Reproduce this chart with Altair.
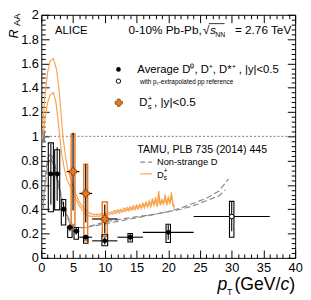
import altair as alt
import pandas as pd

FONT = "Liberation Sans"
W, H = 259, 248
ORANGE = "#ec7a22"
ORANGE_LINE = "#f8a54f"
GREY = "#8a8a8a"

# ---------------- data ----------------
# Average D0, D+, D*+ (ALICE, 0-10% Pb-Pb)
d_pt = [1.5, 2.5, 3.5, 4.5, 5.5, 7, 10, 14, 20, 30]
d_raa = [0.69, 0.69, 0.40, 0.25, 0.22, 0.17, 0.14, 0.17, 0.21, 0.34]
d_xlo = [1, 2, 3, 4, 5, 6, 8, 12, 16, 24]
d_xhi = [2, 3, 4, 5, 6, 8, 12, 16, 24, 36]
d_stat = [0.25, 0.22, 0.06, 0.03, 0.03, 0.02, 0.03, 0.03, 0.06, 0.12]
d_sys_lo = [0.38, 0.395, 0.27, 0.167, 0.153, 0.12, 0.10, 0.13, 0.127, 0.17]
d_sys_hi = [0.946, 0.89, 0.48, 0.26, 0.25, 0.175, 0.19, 0.20, 0.277, 0.465]
d_box_hw = [0.4, 0.4, 0.35, 0.35, 0.35, 0.35, 0.45, 0.35, 0.35, 0.35]
d_extrap = [0, 0, 0, 0, 0, 0, 0, 0, 0, 1]

# Ds+
ds_pt = [5, 7, 10]
ds_raa = [0.71, 0.53, 0.32]
ds_xlo = [4, 6, 8]
ds_xhi = [6, 8, 12]
ds_stat = [0.32, 0.24, 0.12]
ds_sys_lo = [0.27, 0.14, 0.175]
ds_sys_hi = [1.02, 0.77, 0.46]
ds_box_hw = [0.3, 0.3, 0.4]

# normalisation uncertainty box
norm_x = [0.0, 0.6]
norm_y = [0.95, 1.05]
ref_line = [1.0]

# TAMU Ds band (two edges)
tamu_ds_hi_x = [0.2, 0.6, 1.0, 1.4, 1.9, 2.4, 2.8, 3.1, 3.4, 3.8, 4.2, 4.8, 5.4, 6.0, 6.5, 7.0, 7.5, 8.0,
                8.25, 8.5, 8.75, 9.0, 9.25, 9.5, 9.75, 10.0, 10.25, 10.5, 10.75, 11.0, 11.25, 11.5, 11.75,
                12.0, 12.25, 12.5, 12.75, 13.0, 13.25, 13.5, 13.75, 14.0, 14.25, 14.5, 14.75, 15.0, 15.25,
                15.5, 15.75, 16.0, 16.25, 16.5, 16.75, 17.0, 17.25, 17.5, 17.75, 18.0, 18.25, 18.5, 18.75,
                19.0, 19.25, 19.5, 19.75, 20.0, 20.25, 20.5, 20.75, 21.0]
tamu_ds_hi_y = [1.08, 1.35, 1.53, 1.62, 1.64, 1.55, 1.38, 1.2, 1.0, 0.84, 0.72, 0.62, 0.53, 0.46, 0.42, 0.39, 0.37, 0.36,
                0.36, 0.355, 0.36, 0.355, 0.36, 0.365, 0.36, 0.37, 0.365, 0.375, 0.37, 0.38, 0.375, 0.39, 0.38,
                0.395, 0.385, 0.40, 0.39, 0.41, 0.395, 0.415, 0.40, 0.42, 0.405, 0.43, 0.41, 0.435, 0.415,
                0.44, 0.42, 0.45, 0.425, 0.46, 0.43, 0.47, 0.43, 0.49, 0.44, 0.50, 0.43, 0.55, 0.44,
                0.48, 0.45, 0.52, 0.44, 0.50, 0.46, 0.54, 0.45, 0.42]
tamu_ds_lo_x = [0.2, 0.6, 1.0, 1.4, 1.9, 2.3, 2.6, 2.9, 3.2, 3.6, 4.0, 4.8, 5.4, 6.0, 6.5, 7.0, 7.5, 8.0,
                8.25, 8.5, 8.75, 9.0, 9.25, 9.5, 9.75, 10.0, 10.25, 10.5, 10.75, 11.0, 11.25, 11.5, 11.75,
                12.0, 12.25, 12.5, 12.75, 13.0, 13.25, 13.5, 13.75, 14.0, 14.25, 14.5, 14.75, 15.0, 15.25,
                15.5, 15.75, 16.0, 16.25, 16.5, 16.75, 17.0, 17.25, 17.5, 17.75, 18.0, 18.25, 18.5, 18.75,
                19.0, 19.25, 19.5, 19.75, 20.0, 20.25, 20.5, 20.75, 21.0]
tamu_ds_lo_y = [0.98, 1.15, 1.28, 1.34, 1.36, 1.28, 1.15, 1.0, 0.86, 0.74, 0.65, 0.56, 0.49, 0.43, 0.39, 0.36, 0.345, 0.34,
                0.345, 0.34, 0.345, 0.34, 0.345, 0.35, 0.345, 0.355, 0.35, 0.36, 0.355, 0.365, 0.36, 0.37, 0.365,
                0.38, 0.37, 0.385, 0.375, 0.39, 0.38, 0.40, 0.385, 0.405, 0.39, 0.41, 0.395, 0.42, 0.40,
                0.43, 0.405, 0.44, 0.41, 0.45, 0.415, 0.46, 0.42, 0.47, 0.43, 0.48, 0.42, 0.50, 0.43,
                0.47, 0.44, 0.50, 0.43, 0.49, 0.44, 0.51, 0.43, 0.40]

# TAMU non-strange D band (two edges)
tamu_d_hi_x = [0.3, 0.7, 1.0, 1.5, 2.0, 2.5, 3.0, 3.5, 4.0, 4.5, 5.0, 5.5, 6, 7, 8, 9, 10, 12, 14, 16, 18, 20, 22, 24, 26, 28, 29.5]
tamu_d_hi_y = [0.45, 0.7, 0.82, 0.86, 0.8, 0.68, 0.55, 0.44, 0.36, 0.3, 0.27, 0.255, 0.25, 0.25, 0.26, 0.27, 0.28, 0.3, 0.32, 0.34, 0.36, 0.38, 0.41, 0.45, 0.49, 0.55, 0.65]
tamu_d_lo_x = [0.3, 0.7, 1.0, 1.5, 2.0, 2.5, 3.0, 3.5, 4.0, 4.5, 5.0, 5.5, 6, 7, 8, 9, 10, 12, 14, 16, 18, 20, 22, 24, 26, 28, 29]
tamu_d_lo_y = [0.40, 0.64, 0.77, 0.82, 0.76, 0.64, 0.52, 0.42, 0.34, 0.29, 0.26, 0.25, 0.245, 0.25, 0.265, 0.28, 0.295, 0.315, 0.33, 0.345, 0.36, 0.38, 0.40, 0.43, 0.47, 0.51, 0.56]

# axis ticks
x_major = [0, 5, 10, 15, 20, 25, 30, 35, 40]
x_minor = [i for i in range(41) if i % 5]
y_major = [0, 0.2, 0.4, 0.6, 0.8, 1.0, 1.2, 1.4, 1.6, 1.8, 2.0]
y_minor = [round(i * 0.04, 2) for i in range(51) if i % 5]

# ---------------- frames ----------------
d_df = pd.DataFrame({
    "pt": d_pt, "raa": d_raa, "xlo": d_xlo, "xhi": d_xhi,
    "slo": [r - s for r, s in zip(d_raa, d_stat)],
    "shi": [r + s for r, s in zip(d_raa, d_stat)],
    "blo": d_sys_lo, "bhi": d_sys_hi,
    "bx1": [p - w for p, w in zip(d_pt, d_box_hw)],
    "bx2": [p + w for p, w in zip(d_pt, d_box_hw)],
    "extrap": d_extrap,
})
ds_df = pd.DataFrame({
    "pt": ds_pt, "raa": ds_raa, "xlo": ds_xlo, "xhi": ds_xhi,
    "slo": [r - s for r, s in zip(ds_raa, ds_stat)],
    "shi": [r + s for r, s in zip(ds_raa, ds_stat)],
    "blo": ds_sys_lo, "bhi": ds_sys_hi,
    "bx1": [p - w for p, w in zip(ds_pt, ds_box_hw)],
    "bx2": [p + w for p, w in zip(ds_pt, ds_box_hw)],
})
ds_curves = pd.DataFrame({
    "pt": tamu_ds_hi_x + tamu_ds_lo_x,
    "raa": tamu_ds_hi_y + tamu_ds_lo_y,
    "edge": ["hi"] * len(tamu_ds_hi_x) + ["lo"] * len(tamu_ds_lo_x),
})
d_curves = pd.DataFrame({
    "pt": tamu_d_hi_x + tamu_d_lo_x,
    "raa": tamu_d_hi_y + tamu_d_lo_y,
    "edge": ["hi"] * len(tamu_d_hi_x) + ["lo"] * len(tamu_d_lo_x),
})
norm_df = pd.DataFrame({"x1": [norm_x[0]], "x2": [norm_x[1]], "y1": [norm_y[0]], "y2": [norm_y[1]]})
ref_df = pd.DataFrame({"ref": ref_line})
one = pd.DataFrame({"v": [0.0]})

xs = alt.Scale(domain=[0, 40], nice=False, zero=False)
ys = alt.Scale(domain=[0, 2], nice=False, zero=False)

def X(f):
    return alt.X(f, type="quantitative", scale=xs, axis=None)

def Y(f):
    return alt.Y(f, type="quantitative", scale=ys, axis=None)

layers = []

# reference line at 1
layers.append(alt.Chart(ref_df).mark_rule(color="#555555", strokeWidth=0.8, strokeDash=[2, 2]).encode(y=Y("ref")))
# normalisation box
layers.append(alt.Chart(norm_df).mark_rect(color="#7a7a7a").encode(
    x=X("x1"), x2="x2", y=Y("y1"), y2="y2"))
# TAMU curves
layers.append(alt.Chart(d_curves).mark_line(color=GREY, strokeWidth=1.2, strokeDash=[6, 3]).encode(
    x=X("pt"), y=Y("raa"), detail="edge:N"))
layers.append(alt.Chart(ds_curves).mark_line(color=ORANGE_LINE, strokeWidth=1.2).encode(
    x=X("pt"), y=Y("raa"), detail="edge:N"))

# Ds syst boxes and bars
layers.append(alt.Chart(ds_df).mark_rect(fill=None, stroke=ORANGE, strokeWidth=1.5).encode(
    x=X("bx1"), x2="bx2", y=Y("blo"), y2="bhi"))
layers.append(alt.Chart(ds_df).mark_rule(color="black", strokeWidth=1.2).encode(
    x=X("pt"), y=Y("slo"), y2="shi"))
layers.append(alt.Chart(ds_df).mark_rule(color="black", strokeWidth=1.2).encode(
    x=X("xlo"), x2="xhi", y=Y("raa")))

# average D syst boxes and bars
layers.append(alt.Chart(d_df).mark_rect(fill=None, stroke="black", strokeWidth=1.1).encode(
    x=X("bx1"), x2="bx2", y=Y("blo"), y2="bhi"))
layers.append(alt.Chart(d_df).mark_rule(color="black", strokeWidth=1.1).encode(
    x=X("pt"), y=Y("slo"), y2="shi"))
layers.append(alt.Chart(d_df).mark_rule(color="black", strokeWidth=1.1).encode(
    x=X("xlo"), x2="xhi", y=Y("raa")))
layers.append(alt.Chart(d_df).transform_filter("datum.extrap == 0").mark_point(
    shape="circle", filled=True, size=24, color="black", opacity=1).encode(x=X("pt"), y=Y("raa")))
layers.append(alt.Chart(d_df).transform_filter("datum.extrap == 1").mark_point(
    shape="circle", filled=True, size=22, fill="white", stroke="black", strokeWidth=1, opacity=1).encode(
    x=X("pt"), y=Y("raa")))
layers.append(alt.Chart(ds_df).mark_point(
    shape="cross", filled=True, size=55, fill=ORANGE, stroke="#7a3a05", strokeWidth=0.7, opacity=1).encode(
    x=X("pt"), y=Y("raa")))

# ---------------- axes (inward ticks on all four sides) ----------------
def ax(**kw):
    base = dict(grid=False, title=None, domain=False)
    base.update(kw)
    return alt.Axis(**base)

def x_axis_layer(axis):
    return alt.Chart(one).mark_point(opacity=0).encode(
        x=alt.X("v", type="quantitative", scale=xs, axis=axis))

def y_axis_layer(axis):
    return alt.Chart(one).mark_point(opacity=0).encode(
        y=alt.Y("v", type="quantitative", scale=ys, axis=axis))

tick_kw = dict(labels=False, tickColor="black", tickWidth=1)
layers += [
    x_axis_layer(ax(orient="bottom", values=x_major, ticks=False, labelFontSize=13, labelFont=FONT,
                    labelColor="black", labelPadding=4, labelFlush=False, labelOverlap=False, labelBound=False)),
    x_axis_layer(ax(orient="top", offset=-H, values=x_major, tickSize=8, **tick_kw)),
    x_axis_layer(ax(orient="top", offset=-H, values=x_minor, tickSize=4, **tick_kw)),
    x_axis_layer(ax(orient="bottom", offset=-H, values=x_major, tickSize=8, **tick_kw)),
    x_axis_layer(ax(orient="bottom", offset=-H, values=x_minor, tickSize=4, **tick_kw)),
    y_axis_layer(ax(orient="left", values=y_major, format="~g", ticks=False, labelFontSize=13, labelFont=FONT,
                    labelColor="black", labelPadding=3, labelFlush=False, labelOverlap=False, labelBound=False)),
    y_axis_layer(ax(orient="right", offset=-W, values=y_major, tickSize=8, **tick_kw)),
    y_axis_layer(ax(orient="right", offset=-W, values=y_minor, tickSize=4, **tick_kw)),
    y_axis_layer(ax(orient="left", offset=-W, values=y_major, tickSize=8, **tick_kw)),
    y_axis_layer(ax(orient="left", offset=-W, values=y_minor, tickSize=4, **tick_kw)),
]

# ---------------- texts ----------------
def txt(s, x, y, size, style="normal", align="left", angle=0, color="black"):
    return alt.Chart(one).mark_text(text=s, font=FONT, fontSize=size, fontStyle=style, align=align,
                                    baseline="alphabetic", angle=angle, color=color).encode(
        x=alt.value(x), y=alt.value(y))

def hline(x1, x2, y, color, width=1.2, dash=None):
    kw = dict(color=color, strokeWidth=width)
    if dash:
        kw["strokeDash"] = dash
    return alt.Chart(one).mark_rule(**kw).encode(x=alt.value(x1), x2=alt.value(x2), y=alt.value(y))

layers += [
    txt("ALICE", 14, 20, 11.5),
    txt("0-10% Pb-Pb,", 89, 20, 12),
    txt("\u221a", 165, 20, 12),
    hline(171, 187, 9, "black", 0.8),
    txt("s", 172, 20, 12, style="italic"),
    txt("NN", 177.5, 22.5, 7),
    txt("= 2.76 TeV", 255, 20, 12, align="right"),
    # legend
    txt("Average D\u2070, D\u207a, D*\u207a , |y|<0.5", 98, 59.5, 11.5),
    txt("with p\u209c-extrapolated pp reference", 100.7, 71, 6.5),
    txt("D", 100, 93, 11.5),
    txt("+", 108.5, 87.5, 8),
    txt("s", 108.5, 96, 8),
    txt(" , |y|<0.5", 115, 93, 12),
    txt("TAMU, PLB 735 (2014) 445", 98, 141, 10.8),
    hline(101, 113, 150.3, GREY, 1.2, [5, 3]),
    txt("Non-strange D", 118, 153.5, 9.5),
    hline(101, 113, 162.3, ORANGE_LINE, 1.2),
    txt("D", 118, 166, 9.5),
    txt("+", 125, 161.5, 6.5),
    txt("s", 125, 168.5, 6.5),
    # axis titles
    txt("R", -24, 24, 12.5, style="italic", angle=270),
    txt("AA", -22, 11.3, 9.5, angle=270),
    txt("p", 179.7, 280.6, 18, style="italic"),
    txt("T", 189.5, 286.3, 9),
    txt("(GeV/", 197, 280.6, 18),
    txt("c", 244, 280.6, 18, style="italic"),
    txt(")", 253, 280.6, 18),
]

layers += [
    alt.Chart(one).mark_point(shape="circle", filled=True, size=22, color="black", opacity=1).encode(
        x=alt.value(78.7), y=alt.value(55.7)),
    alt.Chart(one).mark_point(shape="circle", filled=True, size=20, fill="white", stroke="black",
                              strokeWidth=1, opacity=1).encode(x=alt.value(78.7), y=alt.value(67.7)),
    alt.Chart(one).mark_point(shape="cross", filled=True, size=55, fill=ORANGE, stroke="#7a3a05",
                              strokeWidth=0.7, opacity=1).encode(x=alt.value(79), y=alt.value(89.7)),
]

chart = alt.layer(*layers).resolve_axis(x="independent", y="independent").properties(
    width=W, height=H,
    padding={"left": 34, "top": 4, "right": 8, "bottom": 38},
    autosize=alt.AutoSizeParams(type="none"),
).configure_view(stroke="black", strokeWidth=1)

chart.save("out.html", embed_options={"renderer": "svg", "actions": False})
